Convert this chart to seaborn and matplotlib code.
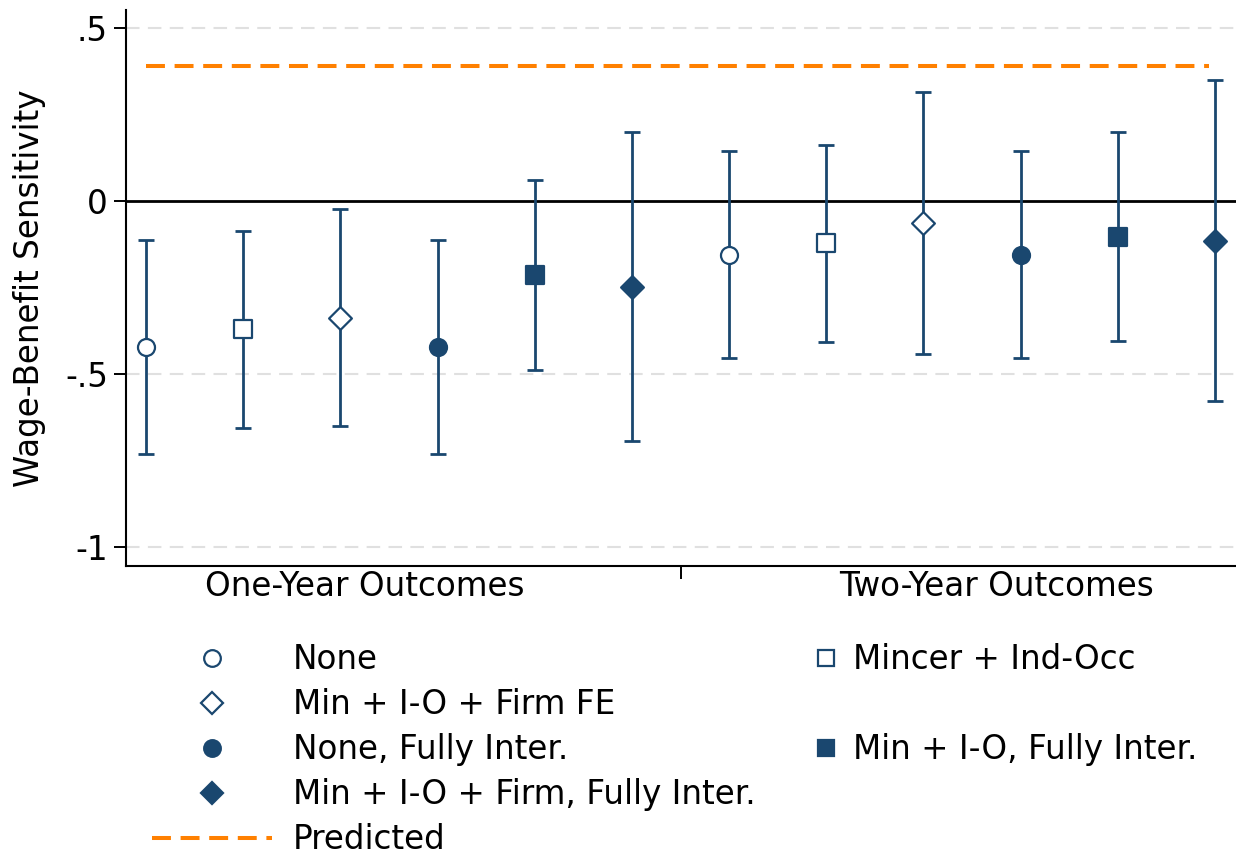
import numpy as np
import pandas as pd
import seaborn as sns
import matplotlib.pyplot as plt
from matplotlib.lines import Line2D

sns.set_theme(style="white")
plt.rcParams['font.family'] = ['DejaVu Sans']
plt.rcParams['text.color'] = 'black'
plt.rcParams['axes.labelcolor'] = 'black'
plt.rcParams['xtick.color'] = 'black'
plt.rcParams['ytick.color'] = 'black'

# --- data ---
specs = ["None", "Mincer + Ind-Occ", "Min + I-O + Firm FE",
         "None, Fully Inter.", "Min + I-O, Fully Inter.", "Min + I-O + Firm, Fully Inter."]
markers = ["o", "s", "D", "o", "s", "D"]
filled = [False, False, False, True, True, True]

one_year_est = [-0.422, -0.370, -0.338, -0.422, -0.214, -0.249]
one_year_lo = [-0.731, -0.656, -0.650, -0.731, -0.488, -0.694]
one_year_hi = [-0.113, -0.087, -0.023, -0.113, 0.061, 0.199]

two_year_est = [-0.156, -0.121, -0.064, -0.156, -0.104, -0.116]
two_year_lo = [-0.454, -0.408, -0.442, -0.454, -0.405, -0.578]
two_year_hi = [0.145, 0.162, 0.315, 0.145, 0.199, 0.350]

predicted = 0.390
group_labels = ["One-Year Outcomes", "Two-Year Outcomes"]

navy = "#1a476f"
orange = "#ff8000"
FS = 23.5

df = pd.DataFrame({
    "spec": specs * 2,
    "est": one_year_est + two_year_est,
    "lo": one_year_lo + two_year_lo,
    "hi": one_year_hi + two_year_hi,
})
df["pos"] = np.arange(1, len(df) + 1)

fig = plt.figure(figsize=(12.36, 8.57), dpi=100)
ax = fig.add_axes([0.102, 0.3396, 0.898, 0.6484])

# reference lines
for yv in [0.5, -0.5, -1]:
    ax.axhline(yv, color="#e0e0e0", lw=1.5, dashes=(6.5, 4), zorder=0)
ax.axhline(0, color="black", lw=2.0, zorder=1)

# predicted line
ax.plot([df["pos"].min(), df["pos"].max() - 0.06], [predicted, predicted],
        color=orange, lw=2.9, dashes=(4.7, 2.4), zorder=2)

# confidence intervals
ax.errorbar(df["pos"], df["est"],
            yerr=[df["est"] - df["lo"], df["hi"] - df["est"]],
            fmt="none", ecolor=navy, elinewidth=2.0, capsize=6, capthick=2.0, zorder=3)

# point estimates
for i, row in df.iterrows():
    k = i % 6
    ms = 150 if markers[k] != "D" else 135
    sns.scatterplot(x=[row["pos"]], y=[row["est"]], ax=ax, marker=markers[k], s=ms,
                    color=navy if filled[k] else "white", edgecolor=navy,
                    linewidth=1.6, zorder=4, legend=False)

ax.set_xlim(0.794, 12.216)
ax.set_ylim(-1.055, 0.552)

ax.set_yticks([0.5, 0, -0.5, -1])
ax.set_yticklabels([".5", "0", "-.5", "-1"], fontsize=FS)
ax.set_xticks([6.5])
ax.set_xticklabels([""])
ax.set_xticks([3.25, 9.75], minor=True)
ax.set_xticklabels(group_labels, minor=True, fontsize=FS)
ax.tick_params(axis="both", which="major", direction="out", length=9, width=1.4,
               color="black", left=True, bottom=True)
ax.tick_params(axis="x", which="minor", length=0, pad=3)
ax.tick_params(axis="y", pad=4)

ax.set_ylabel("Wage-Benefit Sensitivity", fontsize=FS)
ax.yaxis.set_label_coords(-0.072, 0.5)
ax.set_xlabel("")

for side in ["top", "right"]:
    ax.spines[side].set_visible(False)
for side in ["left", "bottom"]:
    ax.spines[side].set_color("black")
    ax.spines[side].set_linewidth(1.5)
ax.grid(False)


def handle(k):
    return Line2D([], [], linestyle="none", marker=markers[k], markersize=12 if markers[k] != "D" else 11,
                  markerfacecolor=navy if filled[k] else "white", markeredgecolor=navy,
                  markeredgewidth=1.6)


blank = Line2D([], [], linestyle="none")
pred_handle = Line2D([], [], color=orange, lw=2.9, dashes=(4.7, 2.4))

left_h = [handle(0), handle(2), handle(3), handle(5), pred_handle]
left_l = [specs[0], specs[2], specs[3], specs[5], "Predicted"]
fig.legend(left_h, left_l, loc="upper left", bbox_to_anchor=(152 / 1236, 1 - 643 / 857),
           frameon=False, fontsize=FS, handlelength=3.68, handletextpad=0.64,
           labelspacing=0.37, borderpad=0, borderaxespad=0)

right_h = [handle(1), blank, handle(4)]
right_l = [specs[1], " ", specs[4]]
fig.legend(right_h, right_l, loc="upper left", bbox_to_anchor=(817 / 1236, 1 - 643 / 857),
           frameon=False, fontsize=FS, handlelength=0.54, handletextpad=0.55,
           labelspacing=0.37, borderpad=0, borderaxespad=0)

fig.savefig("out.png", dpi=100)
